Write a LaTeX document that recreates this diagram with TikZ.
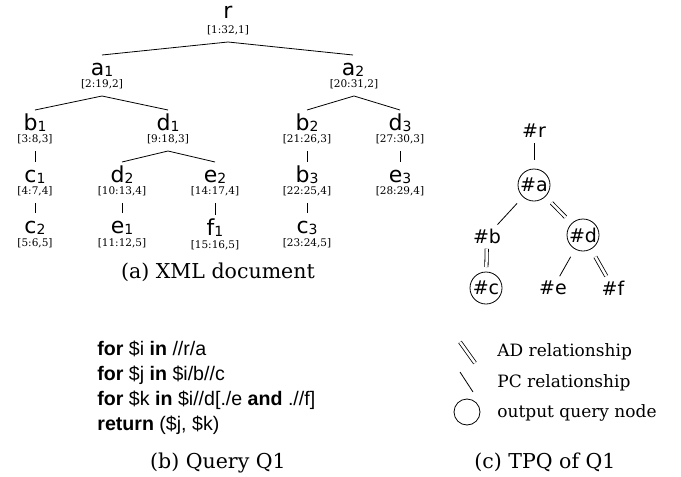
\documentclass[tikz,border=0pt]{standalone}
\usepackage{fontspec}
\newfontfamily\elfont{DejaVu Sans}
\newfontfamily\qryfont{Liberation Sans}
\newfontfamily\capfont{DejaVu Serif}
\newcommand\el[2]{#1\raisebox{-1pt}{\fontsize{14}{14}\selectfont #2}}

\begin{document}
\begin{tikzpicture}[x=1pt,y=-1pt,line width=0.8pt,
		elem/.style={font=\fontsize{22}{22}\elfont, inner sep=0pt, outer ysep=4pt, text height=16pt, text depth=1pt, anchor=base},
		ivl/.style={font=\fontsize{10.5}{10.5}\capfont, inner sep=0pt, outer ysep=6pt, text height=8pt, text depth=3pt, anchor=base},
		tn/.style={font=\fontsize{19}{19}\elfont, inner sep=0pt},
		outn/.style={tn, circle, draw, minimum size=32pt, outer sep=4pt},
		pc/.style={shorten <=5pt, shorten >=5pt},
		ad/.style={pc, double, double distance=2.5pt},
		capt/.style={font=\fontsize{20.5}{20.5}\capfont, anchor=base},
		lgd/.style={font=\fontsize{17}{17}\capfont, anchor=base west, inner sep=0pt}]
		\useasboundingbox (0,0) rectangle (681,477);

		% (a) XML document
		\node[elem] (r) at (228,18) {r};
		\node[ivl] (rl) at (228,33) {[1:32,1]};
		\node[elem] (a1) at (102,75) {\el{a}{1}};
		\node[ivl] (a1l) at (102,87) {[2:19,2]};
		\node[elem] (a2) at (353,75) {\el{a}{2}};
		\node[ivl] (a2l) at (354,87) {[20:31,2]};
		\node[elem] (b1) at (35,130) {\el{b}{1}};
		\node[ivl] (b1l) at (35,142) {[3:8,3]};
		\node[elem] (d1) at (168,130) {\el{d}{1}};
		\node[ivl] (d1l) at (168,142) {[9:18,3]};
		\node[elem] (b2) at (307,130) {\el{b}{2}};
		\node[ivl] (b2l) at (307,142) {[21:26,3]};
		\node[elem] (d3) at (400,130) {\el{d}{3}};
		\node[ivl] (d3l) at (400,142) {[27:30,3]};
		\node[elem] (c1) at (35,182) {\el{c}{1}};
		\node[ivl] (c1l) at (35,194) {[4:7,4]};
		\node[elem] (d2) at (122,182) {\el{d}{2}};
		\node[ivl] (d2l) at (122,194) {[10:13,4]};
		\node[elem] (e2) at (215,182) {\el{e}{2}};
		\node[ivl] (e2l) at (215,194) {[14:17,4]};
		\node[elem] (b3) at (307,182) {\el{b}{3}};
		\node[ivl] (b3l) at (307,194) {[22:25,4]};
		\node[elem] (e3) at (400,182) {\el{e}{3}};
		\node[ivl] (e3l) at (400,194) {[28:29,4]};
		\node[elem] (c2) at (35,233) {\el{c}{2}};
		\node[ivl] (c2l) at (35,246) {[5:6,5]};
		\node[elem] (e1) at (122,233) {\el{e}{1}};
		\node[ivl] (e1l) at (122,246) {[11:12,5]};
		\node[elem] (f1) at (215,235) {\el{f}{1}};
		\node[ivl] (f1l) at (215,248) {[15:16,5]};
		\node[elem] (c3) at (307,233) {\el{c}{3}};
		\node[ivl] (c3l) at (307,246) {[23:24,5]};

		\draw (a1.north) -- (rl.south) -- (a2.north);
		\draw (b1.north) -- (a1l.south) -- (d1.north);
		\draw (b2.north) -- (a2l.south) -- (d3.north);
		\draw (d2.north) -- (d1l.south) -- (e2.north);
		\draw (b1l.south) -- (c1.north);
		\draw (b2l.south) -- (b3.north);
		\draw (d3l.south) -- (e3.north);
		\draw (c1l.south) -- (c2.north);
		\draw (d2l.south) -- (e1.north);
		\draw (e2l.south) -- (f1.north);
		\draw (b3l.south) -- (c3.north);

		\node[capt] (capa) at (218,278) {(a) XML document};

		% (b) Query Q1
		\node[font=\fontsize{19.6}{25}\qryfont, align=left, inner sep=0pt, anchor=north west] (query) at (97,341)
			{\textbf{for} \$i \textbf{in} //r/a\\
			\textbf{for} \$j \textbf{in} \$i/b//c\\
			\textbf{for} \$k \textbf{in} \$i//d[./e \textbf{and} .//f]\\
			\textbf{return} (\$j, \$k)};
		\node[capt] (capb) at (218,468) {(b) Query Q1};

		% (c) TPQ of Q1
		\node[tn] (tr) at (534,131) {\#r};
		\node[outn] (ta) at (534,185) {\#a};
		\node[tn] (tb) at (487,236) {\#b};
		\node[outn] (td) at (583,235) {\#d};
		\node[outn] (tc) at (486,288) {\#c};
		\node[tn] (te) at (553,288) {\#e};
		\node[tn] (tf) at (613,288) {\#f};

		\draw[pc] (tr) -- (ta);
		\draw[pc] (ta) -- (tb);
		\draw[ad] (ta) -- (td);
		\draw[ad, shorten >=1pt] (tb) -- (tc);
		\draw[pc] (td) -- (te);
		\draw[ad] (td) -- (tf);

		% legend
		\coordinate (ad1) at (460,342);
		\coordinate (ad2) at (475,363);
		\coordinate (pc1) at (460,372);
		\coordinate (pc2) at (473,392);
		\coordinate (on) at (467,412);
		\draw[double, double distance=2.5pt] (ad1) -- (ad2);
		\draw (pc1) -- (pc2);
		\draw (on) circle (13pt);
		\node[lgd] (lad) at (497,356) {AD relationship};
		\node[lgd] (lpc) at (497,387) {PC relationship};
		\node[lgd] (lon) at (497,417) {output query node};

		\node[capt] (capc) at (545,468) {(c) TPQ of Q1};
	\end{tikzpicture}
\end{document}
